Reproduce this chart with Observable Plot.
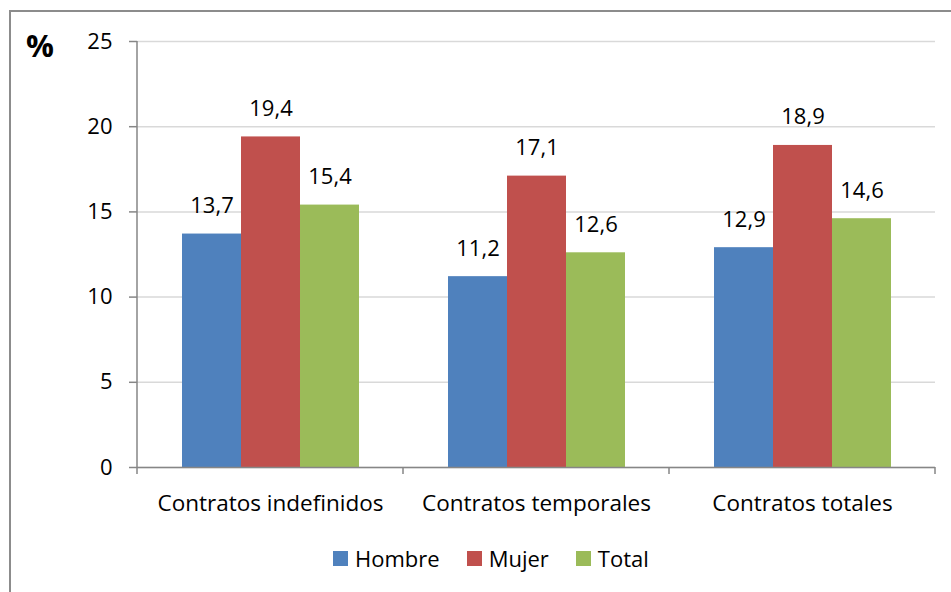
<!DOCTYPE html>
<html>
<head>
<meta charset="utf-8">
<script src="https://cdn.jsdelivr.net/npm/d3@7"></script>
<script src="https://cdn.jsdelivr.net/npm/@observablehq/plot@0.6"></script>
<style>
  html, body { margin: 0; padding: 0; background: #fff; overflow: hidden; }
  body { width: 951px; height: 592px; position: relative; font-family: "Open Sans", sans-serif; }
  #frame { position: absolute; left: 9px; top: 10px; width: 1000px; height: 700px; border: 2px solid #8c8c8c; box-sizing: border-box; }
  #chart { position: absolute; left: 0; top: 0; }
  #pct { position: absolute; left: 26px; top: 25px; font-size: 31px; font-weight: bold; color: #000; line-height: 40px; }
  #legend { position: absolute; left: 333px; top: 543px; height: 30px; display: flex; align-items: center; font-size: 22px; color: #000; line-height: 30px; }
  .item { display: flex; align-items: center; margin-right: 27px; }
  .sw { width: 15px; height: 15px; margin-right: 7px; }
</style>
</head>
<body>
<div id="frame"></div>
<div id="chart"></div>
<div id="pct">%</div>
<div id="legend"></div>
<script>
const categories = ["Contratos indefinidos", "Contratos temporales", "Contratos totales"];
const series = ["Hombre", "Mujer", "Total"];
const hombre = [13.7, 11.2, 12.9];
const mujer = [19.4, 17.1, 18.9];
const total = [15.4, 12.6, 14.6];
const yTicks = [0, 5, 10, 15, 20, 25];
const colors = ["#4F81BD", "#C0504D", "#9BBB59"];

const valuesBySeries = [hombre, mujer, total];
const data = categories.flatMap((c, i) =>
  series.map((s, j) => ({cat: c, serie: s, value: valuesBySeries[j][i]}))
);
const fmt = v => v.toFixed(1).replace(".", ",");

const plot = Plot.plot({
  width: 951,
  height: 592,
  marginLeft: 137,
  marginRight: 16,
  marginTop: 41,
  marginBottom: 125,
  style: {fontFamily: "Open Sans, sans-serif", fontSize: "22px", color: "#000", background: "transparent"},
  fx: {domain: categories, paddingInner: 0, paddingOuter: 0, label: null},
  x: {domain: series, paddingInner: 0, paddingOuter: 0.754, axis: null},
  y: {domain: [0, 25], label: null},
  color: {domain: series, range: colors},
  marks: [
    Plot.gridY(yTicks, {stroke: "#d9d9d9", strokeOpacity: 1, strokeWidth: 1.5}),
    Plot.barY(data, {fx: "cat", x: "serie", y: "value", fill: "serie"}),
    Plot.text(data, {fx: "cat", x: "serie", y: "value", text: d => fmt(d.value), dy: -28, fontSize: 22, fill: "#000"}),
    Plot.axisY(yTicks, {tickSize: 8, tickPadding: 17, stroke: "#868686", strokeWidth: 1.5, fontSize: 22, fill: "#000", label: null, tickFormat: d => String(d)}),
    Plot.axisFx({anchor: "bottom", tickSize: 0, tickPadding: 28, fontSize: 22.5, fill: "#000", label: null}),
    Plot.ruleY([0], {stroke: "#868686", strokeWidth: 1.5})
  ]
});
document.getElementById("chart").appendChild(plot);

// axis line and category boundary ticks, from the plot's scales
const fxs = plot.scale("fx");
const ys = plot.scale("y");
const svg = d3.select(plot);
const y0 = ys.apply(0), yTop = ys.apply(25);
const left = fxs.apply(categories[0]);
svg.append("line").attr("x1", left).attr("x2", left).attr("y1", yTop).attr("y2", y0 + 7)
  .attr("stroke", "#868686").attr("stroke-width", 1.5);
categories.forEach(c => {
  const xb = fxs.apply(c) + fxs.bandwidth;
  svg.append("line").attr("x1", xb).attr("x2", xb).attr("y1", y0).attr("y2", y0 + 7)
    .attr("stroke", "#868686").attr("stroke-width", 1.5);
});

const legend = document.getElementById("legend");
series.forEach((s, i) => {
  const it = document.createElement("div");
  it.className = "item";
  it.innerHTML = `<div class="sw" style="background:${colors[i]}"></div><span>${s}</span>`;
  legend.appendChild(it);
});
</script>
</body>
</html>
